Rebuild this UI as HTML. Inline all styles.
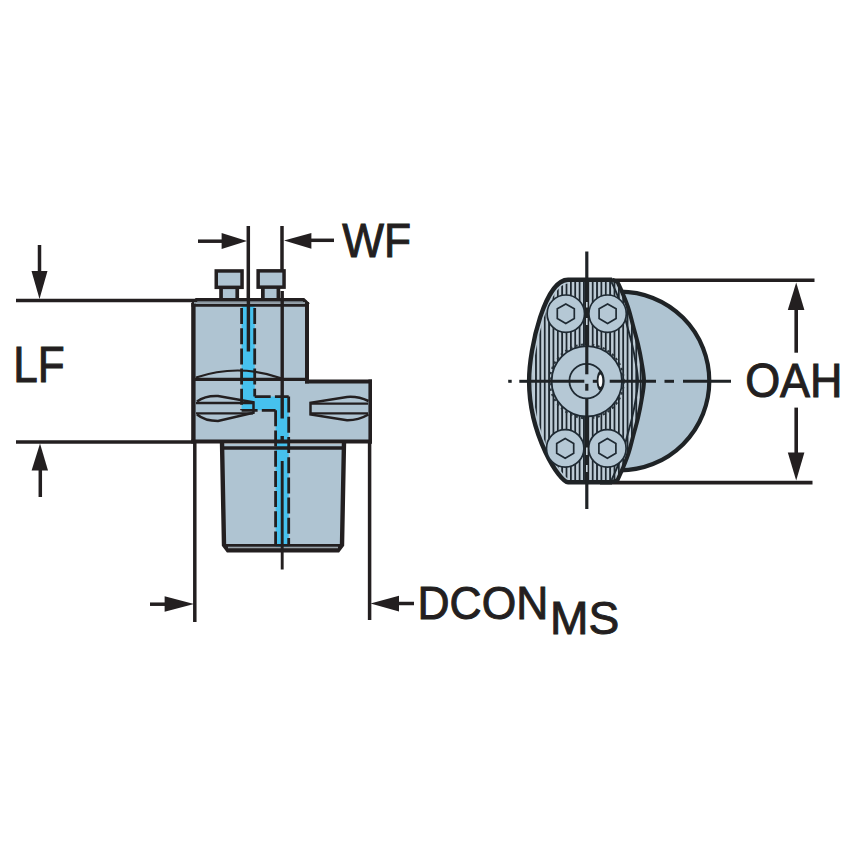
<!DOCTYPE html>
<html><head><meta charset="utf-8">
<style>
html,body{margin:0;padding:0;background:#fff;width:854px;height:854px;overflow:hidden}
svg{display:block}
text{font-family:"Liberation Sans",sans-serif;fill:#231f20;stroke:#231f20;stroke-width:1px}
</style></head>
<body>
<svg width="854" height="854" viewBox="0 0 854 854">
<defs>
<pattern id="hatch" x="556.9" y="0" width="4.36" height="20" patternUnits="userSpaceOnUse">
<rect width="4.36" height="20" fill="#bfcdd7"/>
<rect x="0" width="1.8" height="20" fill="#1e2830"/>
</pattern>
<clipPath id="flclip"><path d="M605,279 L566,279 A90,128 0 0 0 566,483 L605,483 L619.5,476 A80,132 0 0 0 619.5,286 Z"/></clipPath>
</defs>
<rect width="854" height="854" fill="#fff"/>

<g stroke="#231f20" fill="none" stroke-width="3.5">
<!-- LF dimension -->
<line x1="16" y1="300.4" x2="196" y2="300.4"/>
<line x1="16" y1="442" x2="196" y2="442"/>
<line x1="39.5" y1="245" x2="39.5" y2="272"/>
<line x1="40.3" y1="470" x2="40.3" y2="497"/>
</g>
<g fill="#231f20">
<polygon points="31.5,271 47.5,271 39.5,299"/>
<polygon points="31.6,470.5 48,470.5 40,443.6"/>
</g>

<!-- WF dimension -->
<g stroke="#231f20" fill="none" stroke-width="3.5">
<line x1="248.3" y1="226" x2="248.3" y2="300"/>
<line x1="282" y1="226" x2="282" y2="270"/>
<line x1="198" y1="241.2" x2="223" y2="241.2"/>
<line x1="310" y1="240.3" x2="334" y2="240.3"/>
</g>
<g fill="#231f20">
<polygon points="221.6,233 221.6,249 247,241"/>
<polygon points="311.4,233 311.4,248.7 284,240.5"/>
</g>

<!-- DCON dimension -->
<g stroke="#231f20" fill="none" stroke-width="3.5">
<line x1="194.8" y1="442" x2="194.8" y2="622"/>
<line x1="369.6" y1="442" x2="369.6" y2="620"/>
<line x1="150" y1="604.2" x2="166" y2="604.2"/>
<line x1="398" y1="603.5" x2="414" y2="603.5"/>
</g>
<g fill="#231f20">
<polygon points="164.6,596.3 164.6,611.8 194,604"/>
<polygon points="399,595.7 399,611.5 370.5,603.6"/>
</g>

<!-- body fills -->
<g fill="#afc4d2" stroke="none">
<rect x="194" y="300" width="113" height="81"/>
<rect x="194" y="381" width="176" height="61"/>
<path d="M222,444 L344,444 L342,545 Q342,549 338,549 L228,549 Q224.5,549 224.5,545 Z"/>
<rect x="216" y="271" width="26" height="16.5"/>
<rect x="221" y="288" width="16.5" height="12"/>
<rect x="258" y="271" width="26" height="16.5"/>
<rect x="262.8" y="288" width="15.5" height="12"/>
</g>

<!-- coolant channel fill -->
<path d="M241.6,305 L254.7,305 L254.7,396.6 L288.7,396.6 L288.7,547 L275.6,547 L275.6,410.3 L241.6,410.3 Z" fill="#46c1ee"/>

<g stroke="#231f20" fill="none">
<!-- bolts -->
<rect x="216.25" y="270.95" width="25.8" height="16.4" stroke-width="3.5"/>
<line x1="221.05" y1="288" x2="221.05" y2="300" stroke-width="3.7"/>
<line x1="237.25" y1="288" x2="237.25" y2="300" stroke-width="3.7"/>
<rect x="258.15" y="270.85" width="25.9" height="16.3" stroke-width="3.5"/>
<line x1="262.85" y1="288" x2="262.85" y2="300" stroke-width="3.7"/>
<line x1="278.4" y1="288" x2="278.4" y2="300" stroke-width="3.7"/>
<!-- upper block -->
<line x1="193.4" y1="303" x2="193.4" y2="443" stroke-width="4.4"/>
<path d="M192.5,304.5 L196.5,299.8 L303.5,299.8 L308.5,304.5" stroke-width="3.6"/>
<line x1="194" y1="302.9" x2="307" y2="302.9" stroke="#8e99a1" stroke-width="1.6"/>
<line x1="191.5" y1="305.4" x2="309" y2="305.4" stroke-width="2.9"/>
<line x1="307" y1="302" x2="307" y2="383.4" stroke-width="4"/>
<line x1="193" y1="379.3" x2="307" y2="379.3" stroke-width="3.2"/>
<path d="M196,377.5 Q239,363 282,378.5" stroke-width="2.2"/>
<!-- wide block -->
<line x1="305" y1="381.4" x2="372" y2="381.4" stroke-width="4"/>
<line x1="370.2" y1="379.5" x2="370.2" y2="443.6" stroke-width="3.6"/>
<line x1="191.3" y1="441.5" x2="372" y2="441.5" stroke-width="4.2"/>
<!-- shank -->
<line x1="222" y1="448" x2="346" y2="448" stroke-width="3.6"/>
<path d="M222,442 L224,545 L228,550.2 L338,550.2 L342,545 L344,442" stroke-width="4.4"/>
<line x1="224" y1="545.4" x2="342" y2="545.4" stroke-width="2.9"/>
<line x1="228" y1="547.7" x2="338" y2="547.7" stroke="#9aa3a9" stroke-width="1.3"/>
</g>

<!-- cross screws -->
<g stroke="#231f20" fill="none" stroke-width="2.5">
<path d="M197,401.5 Q205,395.5 218,396 L253.5,402.3 L253.5,412.8 L218,421 Q205,421 197,414.5"/>
<line x1="196" y1="403" x2="253" y2="403" stroke-width="2.3"/>
<line x1="196" y1="413.3" x2="253" y2="413.3" stroke-width="2.3"/>
<path d="M368.5,401 Q358,396 347,396.9 L310.5,402.7 L310.5,414.4 L347,420.3 Q358,420.5 368.5,414.5"/>
<line x1="311" y1="403.6" x2="368" y2="403.6" stroke-width="2.3"/>
<line x1="311" y1="413.3" x2="368" y2="413.3" stroke-width="2.3"/>
</g>

<!-- coolant dashed outlines -->
<g stroke="#231f20" fill="none" stroke-width="2.8" stroke-dasharray="16 4.2">
<line x1="241.6" y1="308" x2="241.6" y2="410.3"/>
<line x1="254.7" y1="308" x2="254.7" y2="396.6"/>
<line x1="254.7" y1="396.6" x2="288.7" y2="396.6"/>
<line x1="241.6" y1="410.3" x2="275.6" y2="410.3"/>
<line x1="275.6" y1="410.3" x2="275.6" y2="546"/>
<line x1="288.7" y1="396.6" x2="288.7" y2="546"/>
</g>
<!-- center lines -->
<g stroke="#231f20" stroke-width="3.4">
<line x1="248.4" y1="300" x2="248.4" y2="351.5"/>
<line x1="282.2" y1="291" x2="282.2" y2="418.5"/>
<line x1="282.2" y1="436" x2="282.2" y2="443"/>
<line x1="282.2" y1="461" x2="282.2" y2="569.5" stroke-width="2.9"/>
</g>

<!-- text left -->
<text transform="translate(13.25,381.5) scale(0.9173,1.0273)" font-size="48" class="t">LF</text>
<text transform="translate(342.3,256.6) scale(0.9219,0.9939)" font-size="48" class="t">WF</text>
<text transform="translate(417.52,619.0) scale(0.9252,0.9706)" font-size="48" class="t">DCON</text>
<text transform="translate(550.12,634.4) scale(0.9612,0.9471)" font-size="48" class="t">MS</text>

<!-- END VIEW -->
<!-- OAH dimension -->
<g stroke="#231f20" fill="none" stroke-width="3.6">
<line x1="600" y1="280.3" x2="814.5" y2="280.3"/>
<line x1="600" y1="482.6" x2="812.5" y2="482.6"/>
<line x1="796.2" y1="308" x2="796.2" y2="352.7"/>
<line x1="796.2" y1="407.6" x2="796.2" y2="454"/>
</g>
<g fill="#231f20">
<polygon points="787.8,310 804.4,310 796.2,282.5"/>
<polygon points="787.8,452.5 804.4,452.5 796.2,480.6"/>
</g>
<text transform="translate(745.13,396.9) scale(0.9374,0.9853)" font-size="48" class="t">OAH</text>

<!-- dome -->
<circle cx="620" cy="381" r="89.3" fill="#afc4d2" stroke="#1f2326" stroke-width="4.2"/>

<!-- flange -->
<path d="M612,279.7 L568,279.7 C545.5,279.7 529.1,346.4 529.1,381 C529.1,435.9 559.9,482.2 568,482.2 L612,482.2 L617.5,480 C618.4,478.0 621.0,472.6 622.9,468.0 C624.8,463.4 627.0,458.2 628.7,452.7 C630.5,447.2 631.8,441.0 633.4,435.2 C635.0,429.4 636.7,423.5 638.1,417.6 C639.5,411.7 640.6,406.1 641.6,400.0 C642.6,393.9 644.0,387.3 644.0,381.0 C644.0,374.7 642.6,368.1 641.6,362.0 C640.6,355.9 639.5,350.3 638.1,344.4 C636.7,338.5 635.0,332.6 633.4,326.8 C631.8,321.0 630.5,314.8 628.7,309.3 C627.0,303.8 624.8,298.6 622.9,294.0 C621.0,289.4 618.4,284.0 617.5,282.0 L612,279.7 Z" fill="url(#hatch)"/>
<clipPath id="flc"><path d="M612,279.7 L568,279.7 C545.5,279.7 529.1,346.4 529.1,381 C529.1,435.9 559.9,482.2 568,482.2 L612,482.2 L617.5,480 C618.4,478.0 621.0,472.6 622.9,468.0 C624.8,463.4 627.0,458.2 628.7,452.7 C630.5,447.2 631.8,441.0 633.4,435.2 C635.0,429.4 636.7,423.5 638.1,417.6 C639.5,411.7 640.6,406.1 641.6,400.0 C642.6,393.9 644.0,387.3 644.0,381.0 C644.0,374.7 642.6,368.1 641.6,362.0 C640.6,355.9 639.5,350.3 638.1,344.4 C636.7,338.5 635.0,332.6 633.4,326.8 C631.8,321.0 630.5,314.8 628.7,309.3 C627.0,303.8 624.8,298.6 622.9,294.0 C621.0,289.4 618.4,284.0 617.5,282.0 L612,279.7 Z"/></clipPath>
<g clip-path="url(#flc)">
<path d="M568,279.7 C545.5,279.7 529.1,346.4 529.1,381 C529.1,435.9 559.9,482.2 568,482.2" fill="none" stroke="#b9cad6" stroke-width="7.4"/>
<path d="M617.5,480 C618.4,478.0 621.0,472.6 622.9,468.0 C624.8,463.4 627.0,458.2 628.7,452.7 C630.5,447.2 631.8,441.0 633.4,435.2 C635.0,429.4 636.7,423.5 638.1,417.6 C639.5,411.7 640.6,406.1 641.6,400.0 C642.6,393.9 644.0,387.3 644.0,381.0 C644.0,374.7 642.6,368.1 641.6,362.0 C640.6,355.9 639.5,350.3 638.1,344.4 C636.7,338.5 635.0,332.6 633.4,326.8 C631.8,321.0 630.5,314.8 628.7,309.3 C627.0,303.8 624.8,298.6 622.9,294.0 C621.0,289.4 618.4,284.0 617.5,282.0" fill="none" stroke="#1e2830" stroke-width="1.9" transform="translate(-6,0)"/>
</g>
<path d="M612,279.7 L568,279.7 C545.5,279.7 529.1,346.4 529.1,381 C529.1,435.9 559.9,482.2 568,482.2 L612,482.2" fill="none" stroke="#1f2326" stroke-width="4.4"/>
<path d="M612,482.2 L617.5,480 C618.4,478.0 621.0,472.6 622.9,468.0 C624.8,463.4 627.0,458.2 628.7,452.7 C630.5,447.2 631.8,441.0 633.4,435.2 C635.0,429.4 636.7,423.5 638.1,417.6 C639.5,411.7 640.6,406.1 641.6,400.0 C642.6,393.9 644.0,387.3 644.0,381.0 C644.0,374.7 642.6,368.1 641.6,362.0 C640.6,355.9 639.5,350.3 638.1,344.4 C636.7,338.5 635.0,332.6 633.4,326.8 C631.8,321.0 630.5,314.8 628.7,309.3 C627.0,303.8 624.8,298.6 622.9,294.0 C621.0,289.4 618.4,284.0 617.5,282.0 L612,279.7" fill="none" stroke="#1f2326" stroke-width="4"/>

<!-- bolts -->
<g fill="#b5c8d5" stroke="#1f2a33" stroke-width="1.7">
<circle cx="565.8" cy="313.7" r="18.7"/>
<circle cx="607.6" cy="313.7" r="18.7"/>
<circle cx="565.2" cy="448.4" r="18.7"/>
<circle cx="607.4" cy="448.4" r="18.7"/>
</g>
<g fill="none" stroke="#1f2a33" stroke-width="1.7">
<polygon points="565.8,303.9 574.3,308.8 574.3,318.6 565.8,323.5 557.3,318.6 557.3,308.8"/>
<polygon points="607.6,303.9 616.1,308.8 616.1,318.6 607.6,323.5 599.1,318.6 599.1,308.8"/>
<polygon points="565.2,438.6 573.7,443.5 573.7,453.3 565.2,458.2 556.7,453.3 556.7,443.5"/>
<polygon points="607.4,438.6 615.9,443.5 615.9,453.3 607.4,458.2 598.9,453.3 598.9,443.5"/>
</g>

<!-- big knurled circle -->
<circle cx="586.8" cy="381.3" r="37" fill="none" stroke="#2a343b" stroke-width="2" stroke-dasharray="2.4 3.2"/>
<circle cx="586.8" cy="381.3" r="35.2" fill="#b5c8d5" stroke="#1f2a33" stroke-width="1.8"/>
<circle cx="586.6" cy="381.1" r="17.2" fill="none" stroke="#1f2a33" stroke-width="1.8"/>

<!-- center lines end view -->
<g stroke="#1f2326" stroke-width="3.2" fill="none">
<line x1="586.8" y1="251.5" x2="586.8" y2="374.3"/>
<line x1="586.8" y1="281" x2="586.8" y2="345" stroke-width="4.4"/>
<line x1="586.8" y1="417" x2="586.8" y2="481" stroke-width="4.4"/>
<line x1="586.8" y1="383.8" x2="586.8" y2="390.7"/>
<line x1="586.8" y1="398.7" x2="586.8" y2="509"/>
</g>
<g stroke="#1f2326" stroke-width="3" fill="none">
<line x1="508.2" y1="381.3" x2="511.7" y2="381.3"/>
<line x1="519.3" y1="381.3" x2="528" y2="381.3"/>
<line x1="528" y1="381.3" x2="584.3" y2="381.3"/>
<line x1="592.8" y1="381.3" x2="597.7" y2="381.3"/>
<line x1="609.7" y1="381.3" x2="656" y2="381.3"/>
<line x1="664.5" y1="381.3" x2="674" y2="381.3"/>
<line x1="683" y1="381.3" x2="731" y2="381.3"/>
</g>
<g fill="#c9d6de">
<rect x="586" y="302" width="1.6" height="5.5"/>
<rect x="586" y="318" width="1.6" height="7"/>
<rect x="586" y="447.5" width="1.6" height="7.5"/>
<rect x="586" y="465" width="1.6" height="7"/>
</g>
<!-- pin -->
<ellipse cx="600.3" cy="380.8" rx="3.6" ry="10" fill="#1f262b"/>
<ellipse cx="600.4" cy="380.8" rx="1.9" ry="6.2" fill="#fff"/>
</svg>
</body></html>
